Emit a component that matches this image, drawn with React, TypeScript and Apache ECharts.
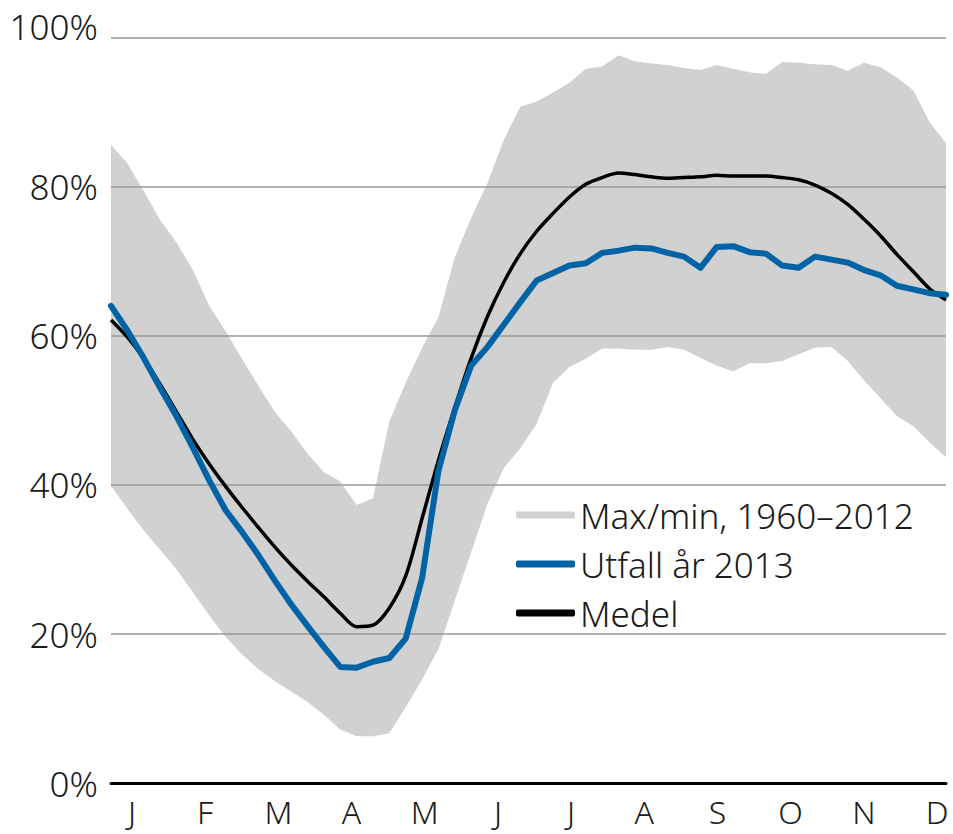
import React, { useEffect, useRef } from "react";
import * as echarts from "echarts";

const weeks: string[] = Array.from({ length: 52 }, (_, i) => String(i + 1));
const months: string[] = ["J", "F", "M", "A", "M", "J", "J", "A", "S", "O", "N", "D"];
const yTicks: number[] = [0, 20, 40, 60, 80, 100];

const maxValues: number[] = [
  85.6, 83.1, 79.4, 75.5, 72.5, 68.8, 64.0, 60.6, 56.9, 53.3,
  49.8, 47.2, 44.2, 41.7, 40.5, 37.3, 38.2, 48.5, 53.7, 58.4,
  62.5, 70.5, 75.8, 80.5, 86.3, 90.7, 91.4, 92.6, 93.9, 95.8,
  96.1, 97.6, 96.8, 96.5, 96.3, 95.9, 95.6, 96.3, 95.8, 95.3,
  95.1, 96.7, 96.6, 96.4, 96.3, 95.5, 96.6, 96.0, 94.6, 92.9,
  88.6, 85.8,
];

const minValues: number[] = [
  39.9, 36.8, 33.9, 31.3, 28.7, 25.6, 22.5, 19.6, 17.3, 15.3,
  13.7, 12.3, 10.9, 9.2, 7.2, 6.3, 6.3, 6.7, 10.2, 13.9,
  18.0, 24.5, 31.0, 37.5, 42.3, 44.9, 48.2, 53.7, 55.8, 56.9,
  58.3, 58.3, 58.1, 58.1, 58.5, 58.1, 57.0, 56.0, 55.2, 56.3,
  56.3, 56.6, 57.5, 58.4, 58.5, 56.6, 54.0, 51.6, 49.2, 47.9,
  45.7, 43.7,
];

const outcome2013: number[] = [
  64.0, 60.7, 57.0, 53.0, 49.2, 45.0, 40.6, 36.6, 33.7, 30.6,
  27.2, 24.0, 21.1, 18.3, 15.6, 15.5, 16.3, 16.8, 19.4, 27.5,
  41.9, 50.0, 56.0, 58.5, 61.5, 64.5, 67.4, 68.4, 69.4, 69.7,
  71.1, 71.4, 71.8, 71.7, 71.1, 70.6, 69.1, 71.9, 72.0, 71.2,
  71.0, 69.4, 69.1, 70.6, 70.2, 69.8, 68.8, 68.1, 66.7, 66.2,
  65.7, 65.5,
];

const meanValues: number[] = [
  62.1, 59.8, 56.9, 53.5, 49.8, 46.1, 42.8, 39.8, 37.0, 34.3,
  31.7, 29.3, 27.1, 25.0, 22.8, 21.0, 21.2, 23.5, 27.8, 35.5,
  43.3, 50.4, 57.0, 62.6, 67.2, 71.0, 74.0, 76.4, 78.6, 80.3,
  81.2, 81.8, 81.6, 81.3, 81.1, 81.2, 81.3, 81.5, 81.4, 81.4,
  81.4, 81.2, 80.9, 80.2, 79.1, 77.6, 75.6, 73.4, 70.9, 68.6,
  66.3, 64.8,
];

const NAME_BAND = "Max/min, 1960–2012";
const NAME_2013 = "Utfall år 2013";
const NAME_MEAN = "Medel";

const FONT = "'Noto Sans', sans-serif";
const TEXT_COLOR = "#1a1a1a";
const BAND_COLOR = "#d1d1d1";
const BLUE = "#0063a6";
const BLACK = "#000000";

export default function App() {
  const ref = useRef<HTMLDivElement>(null);

  useEffect(() => {
    if (!ref.current) return;
    const chart = echarts.init(ref.current, undefined, { renderer: "svg" });
    const bandSpan = maxValues.map((v, i) => +(v - minValues[i]).toFixed(2));
    const top = yTicks[yTicks.length - 1];

    chart.setOption({
      animation: false,
      backgroundColor: "#ffffff",
      textStyle: { fontFamily: FONT },
      grid: [
        { left: 111, right: 7, top: 37.3, bottom: 50.7 },
        { left: 132, right: 16, top: 37.3, bottom: 50.7 },
      ],
      legend: {
        orient: "vertical",
        left: 511,
        top: 490,
        itemWidth: 59,
        itemHeight: 7,
        itemGap: 9,
        textStyle: { fontFamily: FONT, fontSize: 35, color: TEXT_COLOR, lineHeight: 40, fontWeight: 300 },
        data: [
          { name: NAME_BAND, icon: "roundRect", itemStyle: { color: BAND_COLOR } },
          { name: NAME_2013, icon: "roundRect", itemStyle: { color: BLUE } },
          { name: NAME_MEAN, icon: "roundRect", itemStyle: { color: BLACK } },
        ],
      },
      xAxis: [
        {
          type: "category",
          gridIndex: 0,
          data: weeks,
          boundaryGap: false,
          axisLine: { show: true, lineStyle: { color: "#000", width: 3 } },
          axisTick: { show: false },
          axisLabel: { show: false },
          splitLine: { show: false },
          z: 5,
        },
        {
          type: "category",
          gridIndex: 1,
          data: months,
          boundaryGap: false,
          axisLine: { show: false },
          axisTick: { show: false },
          axisLabel: {
            fontFamily: FONT,
            fontSize: 32,
            lineHeight: 32,
            color: TEXT_COLOR,
            margin: 12,
            interval: 0,
            fontWeight: 300,
          },
          splitLine: { show: false },
        },
      ],
      yAxis: [
        {
          type: "value",
          gridIndex: 0,
          min: yTicks[0],
          max: top,
          interval: 20,
          axisLine: { show: false },
          axisTick: { show: false },
          axisLabel: {
            formatter: (v: number) => (v === top ? "{top|" + v + "%}" : v + "%"),
            fontFamily: FONT,
            fontSize: 35,
            color: TEXT_COLOR,
            margin: 13,
            fontWeight: 300,
            rich: {
              top: {
                fontFamily: FONT,
                fontSize: 35,
                color: TEXT_COLOR,
                fontWeight: 300,
                padding: [0, 0, 22, 0],
              },
            },
          },
          splitLine: { show: true, lineStyle: { color: "#9a9a9a", width: 1.5 } },
          z: 3,
        },
        { type: "value", gridIndex: 1, min: 0, max: 100, show: false },
      ],
      series: [
        {
          name: "min",
          type: "line",
          stack: "band",
          data: minValues,
          symbol: "none",
          lineStyle: { width: 0, opacity: 0 },
          silent: true,
          z: 1,
        },
        {
          name: NAME_BAND,
          type: "line",
          stack: "band",
          data: bandSpan,
          symbol: "none",
          itemStyle: { color: BAND_COLOR },
          lineStyle: { width: 0, opacity: 0 },
          areaStyle: { color: BAND_COLOR, opacity: 1 },
          silent: true,
          z: 1,
        },
        {
          name: NAME_MEAN,
          type: "line",
          data: meanValues,
          symbol: "none",
          smooth: 0.3,
          itemStyle: { color: BLACK },
          lineStyle: { color: BLACK, width: 3.5 },
          z: 4,
        },
        {
          name: NAME_2013,
          type: "line",
          data: outcome2013,
          symbol: "none",
          itemStyle: { color: BLUE },
          lineStyle: { color: BLUE, width: 6, join: "round", cap: "round" },
          z: 5,
        },
      ],
    });

    return () => chart.dispose();
  }, []);

  return (
    <div
      ref={ref}
      style={{ position: "fixed", left: 0, top: 0, width: 953, height: 834, background: "#fff" }}
    />
  );
}
